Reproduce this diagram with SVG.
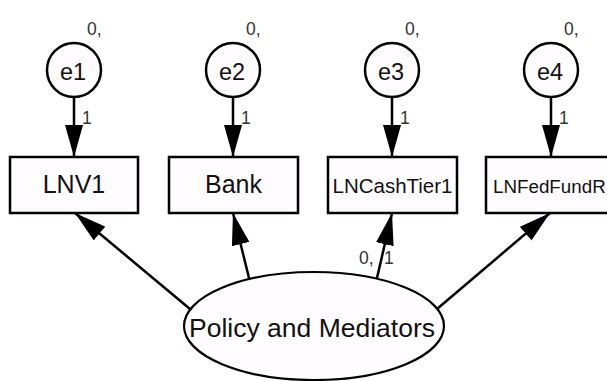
<svg xmlns="http://www.w3.org/2000/svg" width="607" height="381" viewBox="0 0 607 381">
<style>
.box{fill:#fffcff;stroke:#000;stroke-width:2.5}
.circ{fill:#fffcff;stroke:#000;stroke-width:2.5}
.ell{fill:#fffdff;stroke:#000;stroke-width:2.2}
.lbl{font-family:"Liberation Sans",Arial,sans-serif;fill:#111}
.num{font-family:"Liberation Sans",Arial,sans-serif;font-size:17.5px;fill:#333}
.edge{stroke:#000;stroke-width:2.5;fill:none;marker-end:url(#ah)}
</style>
<defs>
<marker id="ah" markerUnits="userSpaceOnUse" markerWidth="32" markerHeight="18" refX="32" refY="9" orient="auto" viewBox="0 0 32 18">
<path d="M0,0 L32,9 L0,18 z" fill="#000"/>
</marker>
</defs>
<rect width="607" height="381" fill="#fff"/>
<g id="connectors">
<line class="edge" x1="74" y1="98" x2="74" y2="157"/>
<line class="edge" x1="233" y1="98" x2="233" y2="157"/>
<line class="edge" x1="392" y1="98" x2="392" y2="157"/>
<line class="edge" x1="551" y1="98" x2="551" y2="157"/>
<line class="edge" x1="190" y1="309" x2="75" y2="213"/>
<line class="edge" x1="249" y1="278" x2="233" y2="213"/>
<line class="edge" x1="377" y1="278" x2="392" y2="213"/>
<line class="edge" x1="437" y1="309" x2="550" y2="213"/>
<text class="num" x="82" y="124">1</text>
<text class="num" x="241" y="124">1</text>
<text class="num" x="400" y="124">1</text>
<text class="num" x="559" y="124">1</text>
<text class="num" x="359" y="264">0,</text>
<text class="num" x="384" y="264">1</text>
</g>
<g id="e1">
<circle class="circ" cx="74" cy="70" r="27"/>
<text class="lbl" x="73" y="80" font-size="23.5" text-anchor="middle">e1</text>
<text class="num" x="87" y="35">0,</text>
</g>
<g id="e2">
<circle class="circ" cx="233" cy="70" r="27"/>
<text class="lbl" x="232" y="80" font-size="23.5" text-anchor="middle">e2</text>
<text class="num" x="246" y="35">0,</text>
</g>
<g id="e3">
<circle class="circ" cx="392" cy="70" r="27"/>
<text class="lbl" x="391" y="80" font-size="23.5" text-anchor="middle">e3</text>
<text class="num" x="405" y="35">0,</text>
</g>
<g id="e4">
<circle class="circ" cx="551" cy="70" r="27"/>
<text class="lbl" x="550" y="80" font-size="23.5" text-anchor="middle">e4</text>
<text class="num" x="564" y="35">0,</text>
</g>
<g id="LNV1">
<rect class="box" x="10" y="157" width="128" height="56"/>
<text class="lbl" x="74" y="193" font-size="25" text-anchor="middle">LNV1</text>
</g>
<g id="Bank">
<rect class="box" x="169" y="157" width="129" height="56"/>
<text class="lbl" x="233.5" y="193" font-size="25" text-anchor="middle">Bank</text>
</g>
<g id="LNCashTier1">
<rect class="box" x="328" y="157" width="129" height="56"/>
<text class="lbl" x="392.5" y="193" font-size="20.5" text-anchor="middle">LNCashTier1</text>
</g>
<g id="LNFedFundR">
<rect class="box" x="486" y="157" width="129" height="56"/>
<text class="lbl" x="493" y="193" font-size="18.8">LNFedFundR</text>
</g>
<g id="PolicyMediators">
<ellipse class="ell" cx="314" cy="326" rx="130" ry="54"/>
<text class="lbl" x="312" y="337" font-size="26.5" text-anchor="middle">Policy and Mediators</text>
</g>
</svg>
